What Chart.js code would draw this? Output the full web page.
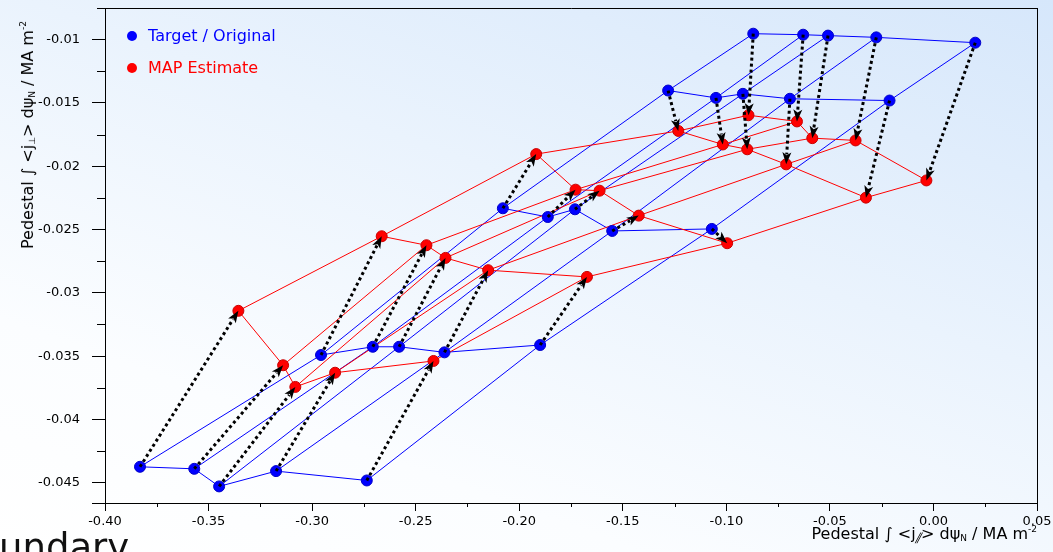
<!DOCTYPE html>
<html>
<head>
<meta charset="utf-8">
<script src="https://cdn.jsdelivr.net/npm/chart.js@4/dist/chart.umd.min.js"></script>
<style>
html,body{margin:0;padding:0;width:1053px;height:552px;overflow:hidden;}
body{position:relative;font-family:"DejaVu Sans",sans-serif;
  background:linear-gradient(200deg,#d6e7fb 0%,#eaf3fd 40%,#fbfdff 75%,#ffffff 100%);}
#c{position:absolute;left:0;top:0;}
.leg{position:absolute;left:148px;font-size:16px;line-height:16px;white-space:nowrap;}
.dot{position:absolute;width:10px;height:10px;border-radius:50%;}
#xt{position:absolute;right:16px;top:526px;font-size:16px;line-height:16px;white-space:nowrap;color:#000;}
#yt{position:absolute;left:28px;top:135px;font-size:16px;line-height:16px;white-space:nowrap;color:#000;
  transform:translate(-50%,-50%) rotate(-90deg);}
sub,sup{font-size:9px;line-height:0;}
sub{vertical-align:-2px;}
sup{vertical-align:7px;}
.par{display:inline-block;font-size:11px;transform:skewX(-28deg);}
#bnd{position:absolute;left:-49px;top:529px;font-size:37px;line-height:37px;white-space:nowrap;color:#111;}
</style>
</head>
<body>
<canvas id="c" width="1053" height="552"></canvas>
<div class="dot" style="left:127px;top:31px;background:#0000ff;"></div>
<div class="leg" style="top:28px;color:#0000ff;">Target / Original</div>
<div class="dot" style="left:127px;top:63px;background:#ff0000;"></div>
<div class="leg" style="top:60px;color:#ff0000;">MAP Estimate</div>
<div id="xt">Pedestal ∫ &lt;j<sub><span class="par">∥</span></sub>&gt; dψ<sub>N</sub> / MA m<sup>-2</sup></div>
<div id="yt">Pedestal ∫ &lt;j<sub>⊥</sub>&gt; dψ<sub>N</sub> / MA m<sup>-2</sup></div>
<div id="bnd">Boundary</div>
<script>
// ---- data ----
const gridCols = 5;
const targetX = [
 -0.3831, -0.3569, -0.3449, -0.3174, -0.2736,
 -0.2957, -0.2707, -0.2580, -0.2361, -0.1899,
 -0.2079, -0.1862, -0.1731, -0.1551, -0.1070,
 -0.1281, -0.1050, -0.0920, -0.0693, -0.0212,
 -0.0870, -0.0629, -0.0509, -0.0276,  0.0202];
const targetY = [
 -0.04374, -0.04390, -0.04529, -0.04408, -0.04482,
 -0.03491, -0.03426, -0.03426, -0.03470, -0.03412,
 -0.02332, -0.02401, -0.02340, -0.02511, -0.02495,
 -0.01402, -0.01460, -0.01428, -0.01467, -0.01481,
 -0.00953, -0.00961, -0.00968, -0.00982, -0.01024];
const estimateX = [
 -0.3356, -0.3140, -0.3081, -0.2889, -0.2414,
 -0.2664, -0.2448, -0.2356, -0.2150, -0.1673,
 -0.1918, -0.1728, -0.1612, -0.1423, -0.0996,
 -0.1232, -0.1017, -0.0899, -0.0711, -0.0326,
 -0.0893, -0.0659, -0.0585, -0.0376, -0.0034];
const estimateY = [
 -0.03142, -0.03572, -0.03743, -0.03631, -0.03538,
 -0.02553, -0.02624, -0.02724, -0.02821, -0.02874,
 -0.01904, -0.02185, -0.02193, -0.02390, -0.02608,
 -0.01721, -0.01828, -0.01866, -0.01985, -0.02248,
 -0.01597, -0.01646, -0.01778, -0.01796, -0.02112];
const xTickValues = [-0.40,-0.35,-0.30,-0.25,-0.20,-0.15,-0.10,-0.05,0.00,0.05];
const xTickLabels = ['-0.40','-0.35','-0.30','-0.25','-0.20','-0.15','-0.10','-0.05','0.00','0.05'];
const yTickValues = [-0.045,-0.04,-0.035,-0.03,-0.025,-0.02,-0.015,-0.01];
const yTickLabels = ['-0.045','-0.04','-0.035','-0.03','-0.025','-0.02','-0.015','-0.01'];
const xMinorValues = [-0.375,-0.325,-0.275,-0.225,-0.175,-0.125,-0.075,-0.025,0.025];
const yMinorValues = [-0.0425,-0.0375,-0.0325,-0.0275,-0.0225,-0.0175,-0.0125,-0.0075];
const xRange = [-0.40, 0.05];
const yRange = [-0.0466, -0.0075];

// ---- build datasets ----
function pts(X, Y, idx){ return idx.map(i => ({x: X[i], y: Y[i]})); }
const nRows = targetX.length / gridCols;
const datasets = [];
datasets.push({label:'Target / Original', data: pts(targetX,targetY,[...targetX.keys()]), showLine:false,
  pointRadius:5.5, pointBackgroundColor:'#0000ff', pointBorderColor:'#0000c8', pointBorderWidth:1, order:0});
datasets.push({label:'MAP Estimate', data: pts(estimateX,estimateY,[...estimateX.keys()]), showLine:false,
  pointRadius:5.5, pointBackgroundColor:'#ff0000', pointBorderColor:'#c80000', pointBorderWidth:1, order:0});
function addGrid(X, Y, color){
  for(let r=0;r<nRows;r++){
    const idx=[]; for(let c=0;c<gridCols;c++) idx.push(r*gridCols+c);
    datasets.push({data: pts(X,Y,idx), showLine:true, borderColor:color, borderWidth:1, pointRadius:0, order:2});
  }
  for(let c=0;c<gridCols;c++){
    const idx=[]; for(let r=0;r<nRows;r++) idx.push(r*gridCols+c);
    datasets.push({data: pts(X,Y,idx), showLine:true, borderColor:color, borderWidth:1, pointRadius:0, order:2});
  }
}
addGrid(estimateX, estimateY, '#ff0000');
addGrid(targetX, targetY, '#0000ff');

const arrowPlugin = {
  id:'arrows',
  afterDatasetsDraw(chart){
    const ctx = chart.ctx, xs = chart.scales.x, ys = chart.scales.y;
    ctx.save();
    for(let i=0;i<targetX.length;i++){
      const x0 = xs.getPixelForValue(targetX[i]), y0 = ys.getPixelForValue(targetY[i]);
      const x1 = xs.getPixelForValue(estimateX[i]), y1 = ys.getPixelForValue(estimateY[i]);
      const L = Math.hypot(x1-x0, y1-y0); const ux=(x1-x0)/L, uy=(y1-y0)/L;
      const hl = 12, hw = 4.5;
      const bx = x1-ux*hl, by = y1-uy*hl;
      ctx.setLineDash([3,3]); ctx.lineWidth = 3; ctx.strokeStyle = '#000'; ctx.lineCap='butt';
      ctx.beginPath(); ctx.moveTo(x0,y0); ctx.lineTo(bx+ux*2,by+uy*2); ctx.stroke();
      ctx.setLineDash([]);
      ctx.fillStyle = '#000';
      ctx.beginPath(); ctx.moveTo(x1,y1);
      ctx.lineTo(bx - uy*hw, by + ux*hw);
      ctx.lineTo(bx + ux*3, by + uy*3);
      ctx.lineTo(bx + uy*hw, by - ux*hw);
      ctx.closePath(); ctx.fill();
    }
    ctx.restore();
  }
};
const framePlugin = {
  id:'frame',
  afterDraw(chart){
    const ctx = chart.ctx, a = chart.chartArea, xs = chart.scales.x, ys = chart.scales.y;
    ctx.save();
    ctx.strokeStyle = '#000'; ctx.lineWidth = 1;
    ctx.beginPath();
    ctx.moveTo(a.left, a.top+0.5); ctx.lineTo(a.right+0.5, a.top+0.5);
    ctx.moveTo(a.right+0.5, a.top); ctx.lineTo(a.right+0.5, a.bottom);
    ctx.moveTo(a.left-13, a.bottom+0.5); ctx.lineTo(a.left, a.bottom+0.5);
    xMinorValues.forEach(v => { const p = Math.round(xs.getPixelForValue(v))+0.5; ctx.moveTo(p, a.bottom); ctx.lineTo(p, a.bottom+4); });
    yMinorValues.forEach(v => { const p = Math.round(ys.getPixelForValue(v))+0.5; ctx.moveTo(a.left-8, p); ctx.lineTo(a.left, p); });
    ctx.stroke();
    ctx.restore();
  }
};

Chart.defaults.font.family = '"DejaVu Sans", sans-serif';
Chart.defaults.font.size = 13;
Chart.defaults.color = '#000';

new Chart(document.getElementById('c'), {
  type:'scatter',
  data:{datasets},
  options:{
    responsive:false, animation:false, events:[],
    layout:{padding:{left:0,right:16,top:8,bottom:0}},
    plugins:{legend:{display:false}, tooltip:{enabled:false}},
    scales:{
      x:{type:'linear', min:xRange[0], max:xRange[1],
        afterBuildTicks: s => { s.ticks = xTickValues.map(v => ({value:v})); },
        afterFit: s => { s.height = 49; s.paddingLeft = 0; s.paddingRight = 0; },
        ticks:{padding:3, maxRotation:0, autoSkip:false, callback:(v,i)=>xTickLabels[i]},
        grid:{drawOnChartArea:false, drawTicks:true, tickLength:8, tickColor:'#000'},
        border:{display:true, color:'#000', width:1}},
      y:{type:'linear', min:yRange[0], max:yRange[1],
        afterBuildTicks: s => { s.ticks = yTickValues.map(v => ({value:v})); },
        afterFit: s => { s.width = 105; s.paddingTop = 0; s.paddingBottom = 0; },
        ticks:{padding:12, autoSkip:false, callback:(v,i)=>yTickLabels[i]},
        grid:{drawOnChartArea:false, drawTicks:true, tickLength:13, tickColor:'#000'},
        border:{display:true, color:'#000', width:1}}
    }
  },
  plugins:[arrowPlugin, framePlugin]
});
</script>
</body>
</html>
